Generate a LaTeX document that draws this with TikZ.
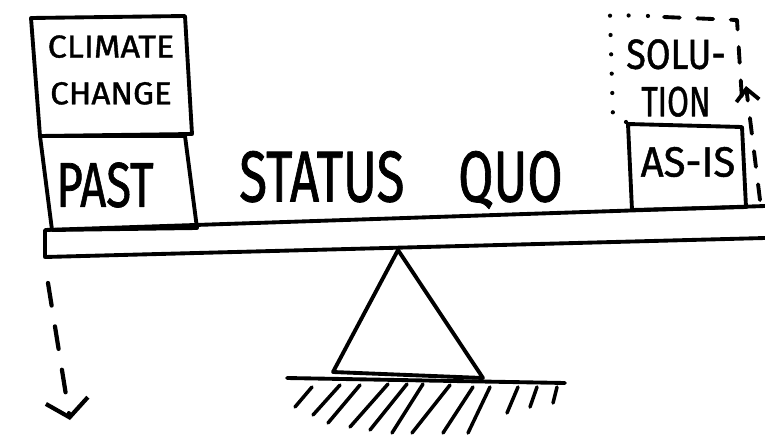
\documentclass[tikz,border=0pt]{standalone}
\usepackage{fontspec}
\setmainfont{Fira Sans}[FakeBold=1.2]
\usetikzlibrary{arrows.meta}

\newcommand{\narrow}[2]{\scalebox{#1}[1]{#2}}

\begin{document}
\begin{tikzpicture}[
  x=0.02cm,y=-0.02cm,
  line cap=round, line join=round,
  >={Straight Barb[length=3.4mm,width=8.5mm]},
  pen/.style={line width=2.2pt},
  dots/.style={line width=2.4pt, dash pattern=on 0pt off 11pt},
  dashy/.style={line width=2.2pt, dash pattern=on 9pt off 10pt},
  fall/.style={line width=2.4pt, dash pattern=on 13pt off 12pt},
  hatch/.style={line width=2pt},
  word/.style={inner sep=0pt, align=center},
  huge/.style={font=\fontsize{41}{41}\selectfont},
  large/.style={font=\fontsize{36}{36}\selectfont},
  mid/.style={font=\fontsize{24}{24}\selectfont},
  small/.style={font=\fontsize{18}{26.6}\selectfont},
]
\useasboundingbox (0,0) rectangle (765,440);

%% ---------- BOXES ON THE LEFT ----------
\draw[pen] (31,18) -- (185,16) -- (192,134) -- (40,136) -- cycle;
\node[word, small] (climate) at (111,70) {\narrow{1.08}{CLIMATE}\\\narrow{1.05}{CHANGE}};
\draw[pen] (40,136) -- (185,136) -- (197,228) -- (52,230) -- cycle;
\node[word, large] (past) at (105,185) {\narrow{0.72}{PAST}};

%% ---------- BEAM ----------
\draw[pen] (765,206) -- (45,230) -- (45,257) -- (765,238);
\node[word, huge] (quo) at (401,180) {\narrow{0.71}{STATUS\hspace{1.05em}QUO}};

%% ---------- BOXES ON THE RIGHT ----------
\draw[pen] (628,124) -- (742,127) -- (746,207) -- (632,210) -- cycle;
\node[word, mid] (asis) at (688,162) {\narrow{0.95}{AS-IS}};
\draw[dots] (626,122) -- (613,118) -- (610,15) -- (650,16);
\draw[dashy] (664,17) -- (737,20) -- (742,100);
\node[word, mid] (solution) at (676,78) {\narrow{0.85}{SOLU-}\\[3pt]\narrow{0.75}{TION}};
\coordinate (upfrom) at (760,200);
\coordinate (upto) at (746,86);
\draw[dashy, -{Straight Barb[length=2.4mm,width=4.6mm]}] (upfrom) -- (upto);

%% ---------- FULCRUM ----------
\draw[pen] (398,250) -- (333,372) -- (483,378) -- cycle;
\draw[pen] (287,378) -- (565,383);
\draw[hatch] (312,387) -- (295,407);
\draw[hatch] (340,385) -- (313,415);
\draw[hatch] (360,385) -- (328,423);
\draw[hatch] (388,384) -- (350,427);
\draw[hatch] (407,384) -- (370,430);
\draw[hatch] (423,384) -- (392,433);
\draw[hatch] (450,385) -- (412,433);
\draw[hatch] (473,387) -- (443,433);
\draw[hatch] (490,387) -- (468,433);
\draw[hatch] (518,387) -- (507,413);
\draw[hatch] (537,387) -- (530,407);
\draw[hatch] (557,387) -- (553,403);

%% ---------- FALLING ARROW ----------
\coordinate (downfrom) at (48,283);
\coordinate (downto) at (70,420);
\draw[fall, ->] (downfrom) -- (downto);
\end{tikzpicture}
\end{document}
